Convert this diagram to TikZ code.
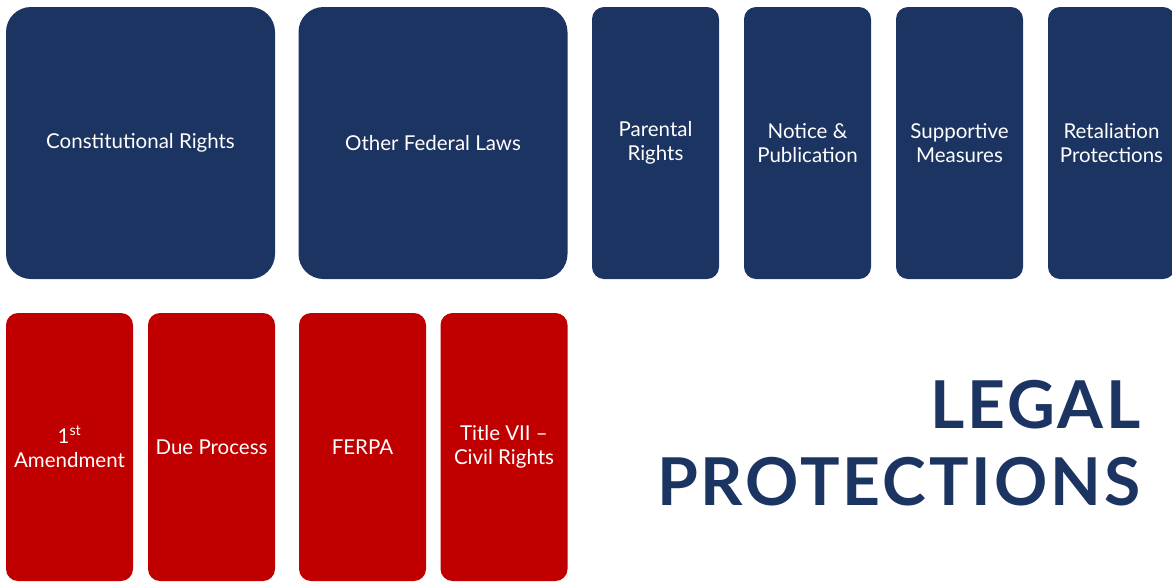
\documentclass[tikz,border=0pt]{standalone}
\usepackage{fontspec}
\setmainfont{Lato}
\definecolor{navy}{HTML}{1C3461}
\definecolor{crimson}{HTML}{C00000}

\tikzset{
    tile/.style={inner sep=0pt, outer sep=0pt, align=center, text=white,
        font=\fontsize{20.5}{24}\selectfont},
    bigtile/.style={tile, fill=navy, rounded corners=25pt,
        minimum width=269pt, minimum height=272pt},
    smalltile/.style={tile, fill=navy, rounded corners=12pt,
        minimum width=127pt, minimum height=272pt},
    redtile/.style={tile, fill=crimson, rounded corners=12pt,
        minimum width=127pt, minimum height=268pt},
    heading/.style={inner sep=0pt, text=navy, anchor=base east,
        font=\fontsize{66}{77}\selectfont\bfseries\addfontfeatures{LetterSpace=4.5}}
}

\begin{document}
\begin{tikzpicture}[x=1pt, y=-1pt]
    \useasboundingbox (0,0) rectangle (1172,582);
    \begin{scope}
    \clip (0,0) rectangle (1172,582);
    % top row
    \node[bigtile] (const) at (140.5,143) {Constitutional Rights};
    \node[bigtile] (fed) at (433,143) {Other Federal Laws};
    \node[smalltile] (parent) at (655.5,143) {Parental\\Rights};
    \node[smalltile] (notice) at (807.5,143) {Notice \&\\Publication};
    \node[smalltile] (support) at (959.5,143) {Supportive\\Measures};
    \node[smalltile] (retal) at (1111.5,143) {Retaliation\\Protections};
    % bottom row
    \node[redtile] (amend) at (69.5,447) {1\textsuperscript{st}\\Amendment};
    \node[redtile] (due) at (211.5,447) {Due Process};
    \node[redtile] (ferpa) at (362.5,447) {FERPA};
    \node[redtile] (title) at (504,447) {Title VII --\\Civil Rights};
    \end{scope}
    % heading
    \node[heading] (legal) at (1141,428) {LEGAL};
    \node[heading] (protect) at (1141,505) {PROTECTIONS};
\end{tikzpicture}
\end{document}
